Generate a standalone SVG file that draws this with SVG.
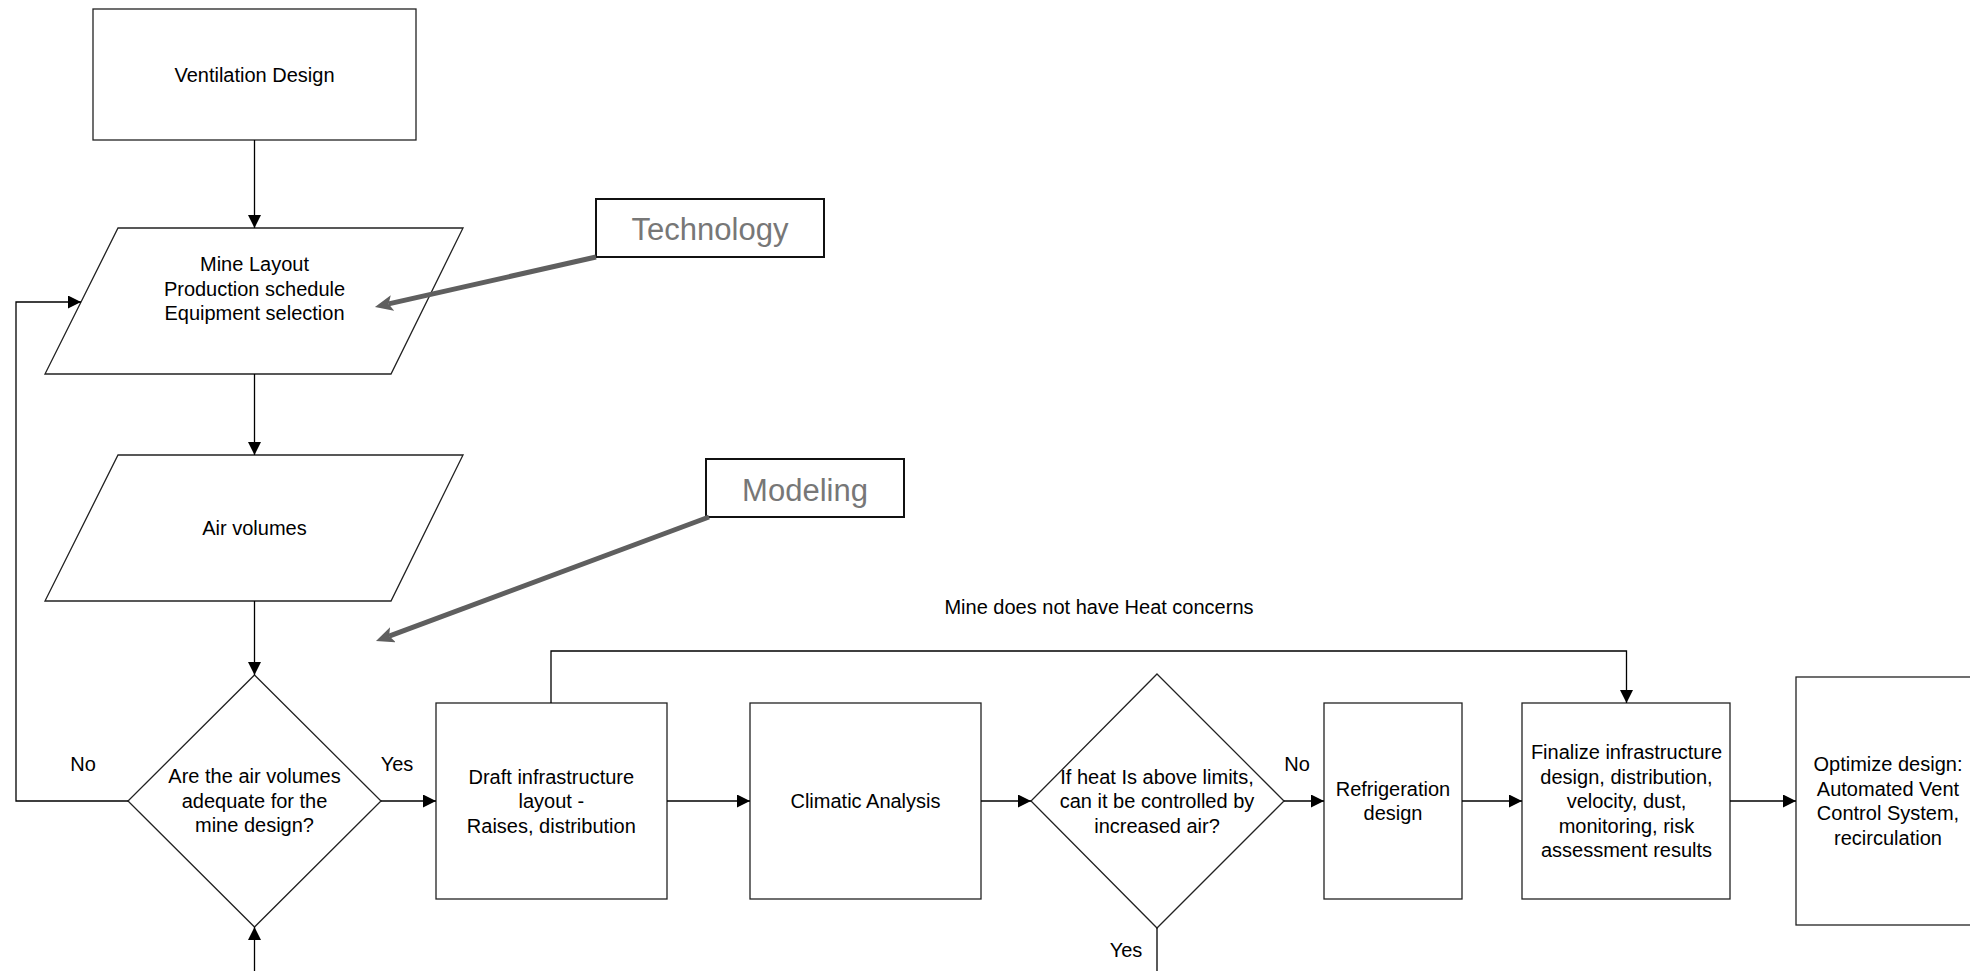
<svg xmlns="http://www.w3.org/2000/svg" width="1970" height="971" viewBox="0 0 1970 971">
<style>
.shape{fill:#fff;stroke:#222;stroke-width:1.3}
.lbl{fill:#fff;stroke:#111;stroke-width:2}
.t{font-family:"Liberation Sans",Arial,sans-serif;font-size:20px;fill:#000;text-anchor:middle}
.big{font-family:"Liberation Sans",Arial,sans-serif;font-size:31px;fill:#777;text-anchor:middle}
.c{fill:none;stroke:#000;stroke-width:1.3}
.g{fill:none;stroke:#5f5f5f;stroke-width:5}
</style>
<defs>
<marker id="ah" markerUnits="userSpaceOnUse" markerWidth="13" markerHeight="13" refX="13" refY="6.5" orient="auto">
<path d="M0,0 L13,6.5 L0,13 z" fill="#000"/>
</marker>
<marker id="gh" markerUnits="userSpaceOnUse" markerWidth="18" markerHeight="16" refX="4" refY="8" orient="auto">
<path d="M0,0 L18,8 L0,16 L4,8 z" fill="#5f5f5f"/>
</marker>
</defs>
<rect width="1970" height="971" fill="#fff"/>
<g id="ventilation-design">
<rect class="shape" x="93" y="9" width="323" height="131"/>
<text class="t" x="254.5" y="82">Ventilation Design</text>
</g>
<g id="mine-layout">
<polygon class="shape" points="118,228 463,228 391,374 45,374"/>
<text class="t" x="254.5" y="271">Mine Layout</text>
<text class="t" x="254.5" y="296">Production schedule</text>
<text class="t" x="254.5" y="320">Equipment selection</text>
</g>
<g id="air-volumes">
<polygon class="shape" points="118,455 463,455 391,601 45,601"/>
<text class="t" x="254.5" y="535">Air volumes</text>
</g>
<g id="adequate-decision">
<polygon class="shape" points="254.5,675 381,801 254.5,927 128,801"/>
<text class="t" x="254.5" y="783">Are the air volumes</text>
<text class="t" x="254.5" y="807.5">adequate for the</text>
<text class="t" x="254.5" y="832">mine design?</text>
</g>
<g id="draft-infrastructure">
<rect class="shape" x="436" y="703" width="231" height="196"/>
<text class="t" x="551.3" y="784">Draft infrastructure</text>
<text class="t" x="551.3" y="808">layout -</text>
<text class="t" x="551.3" y="832.5">Raises, distribution</text>
</g>
<g id="climatic-analysis">
<rect class="shape" x="750" y="703" width="231" height="196"/>
<text class="t" x="865.5" y="808">Climatic Analysis</text>
</g>
<g id="heat-decision">
<polygon class="shape" points="1157,674 1284,801 1157,928 1031,801"/>
<text class="t" x="1157" y="784">If heat Is above limits,</text>
<text class="t" x="1157" y="808">can it be controlled by</text>
<text class="t" x="1157" y="832.5">increased air?</text>
</g>
<g id="refrigeration-design">
<rect class="shape" x="1324" y="703" width="138" height="196"/>
<text class="t" x="1393" y="796">Refrigeration</text>
<text class="t" x="1393" y="820">design</text>
</g>
<g id="finalize-infrastructure">
<rect class="shape" x="1522" y="703" width="208" height="196"/>
<text class="t" x="1626.5" y="759">Finalize infrastructure</text>
<text class="t" x="1626.5" y="783.5">design, distribution,</text>
<text class="t" x="1626.5" y="808">velocity, dust,</text>
<text class="t" x="1626.5" y="832.5">monitoring, risk</text>
<text class="t" x="1626.5" y="857">assessment results</text>
</g>
<g id="optimize-design">
<rect class="shape" x="1796" y="677" width="190" height="248"/>
<text class="t" x="1888" y="771">Optimize design:</text>
<text class="t" x="1888" y="796">Automated Vent</text>
<text class="t" x="1888" y="820">Control System,</text>
<text class="t" x="1888" y="844.5">recirculation</text>
</g>
<g id="technology">
<rect class="lbl" x="596" y="199" width="228" height="58"/>
<text class="big" x="710" y="240">Technology</text>
</g>
<g id="modeling">
<rect class="lbl" x="706" y="459" width="198" height="58"/>
<text class="big" x="805" y="501">Modeling</text>
</g>
<g id="connectors">
<path class="c" d="M254.5,140 V228" marker-end="url(#ah)"/>
<path class="c" d="M254.5,374 V455" marker-end="url(#ah)"/>
<path class="c" d="M254.5,601 V675" marker-end="url(#ah)"/>
<path class="c" d="M128,801 H16 V302 H81" marker-end="url(#ah)"/>
<path class="c" d="M381,801 H436" marker-end="url(#ah)"/>
<path class="c" d="M254.5,971 V927" marker-end="url(#ah)"/>
<path class="c" d="M667,801 H750" marker-end="url(#ah)"/>
<path class="c" d="M981,801 H1031" marker-end="url(#ah)"/>
<path class="c" d="M1284,801 H1324" marker-end="url(#ah)"/>
<path class="c" d="M1157,928 V971"/>
<path class="c" d="M1462,801 H1522" marker-end="url(#ah)"/>
<path class="c" d="M1730,801 H1796" marker-end="url(#ah)"/>
<path class="c" d="M551,703 V651 H1626.5 V703" marker-end="url(#ah)"/>
<path class="g" d="M596,257 L388.6,303.9" marker-end="url(#gh)"/>
<path class="g" d="M709,517 L389.1,636.1" marker-end="url(#gh)"/>
<text class="t" x="83" y="771">No</text>
<text class="t" x="397" y="771">Yes</text>
<text class="t" x="1297" y="771">No</text>
<text class="t" x="1126" y="957">Yes</text>
<text class="t" x="1099" y="614">Mine does not have Heat concerns</text>
</g>
</svg>
